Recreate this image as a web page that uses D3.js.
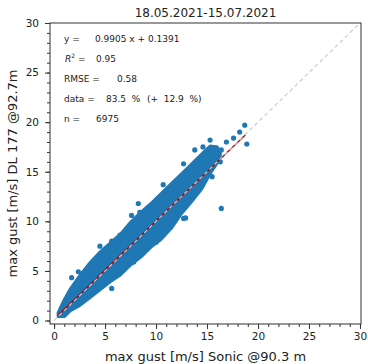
<!DOCTYPE html>
<html>
<head>
<meta charset="utf-8">
<script src="https://cdn.jsdelivr.net/npm/d3@7"></script>
<style>
  body { margin: 0; background: #fff; }
  svg text { font-family: "DejaVu Sans", sans-serif; fill: #222; white-space: pre; }
</style>
</head>
<body>
<svg class="scatter" width="368" height="364"></svg>
<script>
const bandX  = [0.4, 1.0, 1.6, 2.5, 3.5, 4.5, 5.5, 6.5, 7.5, 8.5, 9.5, 10.5, 11.5, 12.5, 13.5, 14.5, 15.3, 16.0, 16.3];
const bandHi = [0.8, 2.1, 3.2, 4.5, 5.8, 6.9, 7.8, 8.7, 9.9, 10.9, 11.8, 12.8, 13.8, 14.8, 15.8, 16.8, 17.6, 17.5, 17.0];
const bandLo = [0.4, 0.4, 1.0, 1.5, 2.3, 3.1, 3.9, 4.6, 5.6, 6.4, 7.4, 8.2, 9.3, 10.8, 12.0, 13.3, 14.8, 15.9, 16.5];

// scattered single points outside the dense band
const ptX = [1.72, 2.38, 4.5, 5.65, 6.46, 7.6, 8.4, 8.26, 9.4, 10.7, 12.7, 13.8, 14.6, 15.3, 15.8, 16.4, 16.3, 15.5, 16.9, 17.6, 18.2, 18.7, 18.9, 16.4, 5.65, 7.8, 10.0, 12.7, 12.9];
const ptY = [4.32, 4.92, 7.5, 8.0, 8.62, 10.6, 10.9, 11.8, 11.5, 13.7, 15.8, 17.2, 17.5, 18.2, 17.4, 17.2, 16.0, 14.5, 18.0, 18.4, 19.0, 19.7, 17.8, 11.3, 3.24, 5.9, 7.9, 10.3, 10.35];

const fitSlope = 0.9905;
const fitIntercept = 0.1391;
const fitRange = [0.4, 18.8];

const xTicks = [0, 5, 10, 15, 20, 25, 30];
const yTicks = [0, 5, 10, 15, 20, 25, 30];

const statLabels = ["y =", "R² =", "RMSE =", "data =", "n ="];
const statValues = ["0.9905 x + 0.1391", "0.95", "0.58", "83.5  %", "6975"];

const title = "18.05.2021-15.07.2021";
const xLabel = "max gust [m/s] Sonic @90.3 m";
const yLabel = "max gust [m/s] DL 177 @92.7m";

const m = { left: 50, right: 361, top: 23, bottom: 324 };
const blue = "#1f77b4";

const x = d3.scaleLinear().domain([-0.4, 30.1]).range([m.left, m.right]);
const y = d3.scaleLinear().domain([-0.35, 30]).range([m.bottom, m.top]);

const svg = d3.select(".scatter");

svg.append("clipPath").attr("id", "clip")
  .append("rect")
  .attr("x", m.left).attr("y", m.top)
  .attr("width", m.right - m.left).attr("height", m.bottom - m.top);

const plot = svg.append("g").attr("clip-path", "url(#clip)");

// cloud
const band = bandX.map((d, i) => ({ x: d, lo: bandLo[i], hi: bandHi[i] }));
plot.append("path")
  .datum(band)
  .attr("d", d3.area().x(d => x(d.x)).y0(d => y(d.lo)).y1(d => y(d.hi)))
  .attr("fill", blue)
  .attr("stroke", blue)
  .attr("stroke-width", 3)
  .attr("stroke-linejoin", "round");

plot.selectAll(".pt")
  .data(ptX.map((d, i) => [d, ptY[i]]))
  .enter().append("circle")
  .attr("class", "pt")
  .attr("cx", d => x(d[0]))
  .attr("cy", d => y(d[1]))
  .attr("r", 2.6)
  .attr("fill", blue);

// regression line
plot.append("line")
  .attr("x1", x(fitRange[0])).attr("y1", y(fitSlope * fitRange[0] + fitIntercept))
  .attr("x2", x(fitRange[1])).attr("y2", y(fitSlope * fitRange[1] + fitIntercept))
  .style("stroke", "#b00000")
  .style("stroke-width", 1.2);

// 1:1 line
plot.append("line")
  .attr("x1", x(-1)).attr("y1", y(-1))
  .attr("x2", x(31)).attr("y2", y(31))
  .style("stroke", "#cccccc")
  .style("stroke-width", 1.2)
  .style("stroke-dasharray", "4,3");

// axes
const xAxis = d3.axisBottom(x).tickValues(xTicks).tickSize(5).tickPadding(4).tickFormat(d3.format("d"));
const yAxis = d3.axisLeft(y).tickValues(yTicks).tickSize(5).tickPadding(6).tickFormat(d3.format("d"));
const xMinor = d3.axisBottom(x).tickValues(d3.range(0, 31)).tickSize(3).tickFormat("");
const yMinor = d3.axisLeft(y).tickValues(d3.range(0, 31)).tickSize(3).tickFormat("");

svg.append("g").attr("transform", `translate(0,${m.bottom})`).call(xMinor);
svg.append("g").attr("transform", `translate(${m.left},0)`).call(yMinor);
svg.append("g").attr("class", "xaxis").attr("transform", `translate(0,${m.bottom})`).call(xAxis);
svg.append("g").attr("class", "yaxis").attr("transform", `translate(${m.left},0)`).call(yAxis);

svg.selectAll(".domain").remove();
svg.selectAll(".tick line").attr("stroke", "#333");
svg.selectAll(".tick text").style("font-size", "10.5px").attr("fill", "#222");

svg.append("rect")
  .attr("x", m.left).attr("y", m.top)
  .attr("width", m.right - m.left).attr("height", m.bottom - m.top)
  .attr("fill", "none")
  .attr("stroke", "#333")
  .attr("stroke-width", 1);

// titles
svg.append("text")
  .attr("x", (m.left + m.right) / 2).attr("y", 17)
  .attr("text-anchor", "middle")
  .style("font-size", "12px")
  .text(title);

svg.append("text")
  .attr("x", (m.left + m.right) / 2).attr("y", 361)
  .attr("text-anchor", "middle")
  .style("font-size", "13px")
  .text(xLabel);

svg.append("text")
  .attr("transform", `translate(17,${(m.top + m.bottom) / 2}) rotate(-90)`)
  .attr("text-anchor", "middle")
  .style("font-size", "13px")
  .text(yLabel);

// stats box
const statX = [64, 65, 64, 64, 64];
const valX = [95, 96, 117, 106, 96];
const stats = svg.append("g").style("font-size", "9px");
statLabels.forEach((s, i) => {
  const yy = 42 + i * 20;
  const red = i === 0;
  const lab = stats.append("text").attr("x", statX[i]).attr("y", yy).attr("fill", red ? "#b22222" : "#222");
  if (s.startsWith("R²")) {
    lab.append("tspan").style("font-style", "italic").text("R");
    lab.append("tspan").attr("dy", -4).style("font-size", "6px").text("2");
    lab.append("tspan").attr("dy", 4).text(" =");
  } else {
    lab.text(s);
  }
  stats.append("text").attr("x", valX[i]).attr("y", yy)
    .attr("fill", red ? "#b22222" : "#222")
    .text(statValues[i]);
});
stats.append("text").attr("x", 147).attr("y", 102).attr("fill", "#999").text("(+  12.9  %)");
</script>
</body>
</html>
